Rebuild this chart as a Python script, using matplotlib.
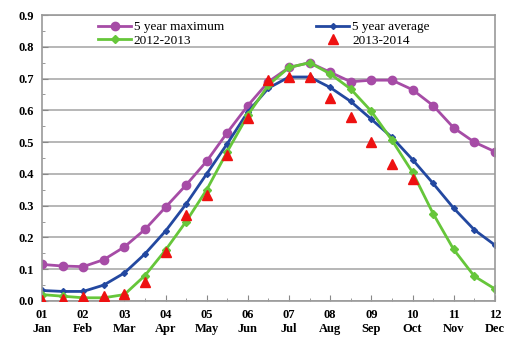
import numpy as np
import matplotlib.pyplot as plt

# Semi-monthly positions: 1 = 01 Jan ... 12 = 12 Dec
months = np.arange(1, 12.01, 0.5)
month_ticks = np.arange(1, 13)
month_labels = ["01\nJan", "02\nFeb", "03\nMar", "04\nApr", "05\nMay", "06\nJun",
                "07\nJul", "08\nAug", "09\nSep", "10\nOct", "11\nNov", "12\nDec"]

max5 = [0.115, 0.11, 0.108, 0.13, 0.17, 0.225, 0.295, 0.365, 0.44, 0.53, 0.615, 0.69,
        0.735, 0.75, 0.72, 0.69, 0.695, 0.695, 0.665, 0.615, 0.545, 0.50, 0.47]
avg5 = [0.033, 0.03, 0.03, 0.05, 0.088, 0.148, 0.22, 0.305, 0.40, 0.495, 0.595, 0.67,
        0.705, 0.705, 0.672, 0.628, 0.572, 0.515, 0.445, 0.37, 0.292, 0.224, 0.176]
y1213 = [0.02, 0.015, 0.01, 0.01, 0.02, 0.08, 0.16, 0.25, 0.35, 0.47, 0.585, 0.68,
         0.735, 0.75, 0.715, 0.667, 0.597, 0.506, 0.405, 0.275, 0.162, 0.078, 0.038]
y1314 = [0.003, 0.005, 0.012, 0.015, 0.022, 0.06, 0.155, 0.27, 0.335, 0.46, 0.575, 0.695,
         0.705, 0.705, 0.64, 0.58, 0.50, 0.43, 0.385]

plt.rcParams['font.family'] = ['Liberation Serif', 'DejaVu Serif']

fig = plt.figure(figsize=(5.06, 3.42), dpi=100)
ax = fig.add_axes([0.083, 0.12, 0.895, 0.836])

l_max, = ax.plot(months, max5, color="#a64ca6", lw=2, marker="o", ms=6, label="5 year maximum")
l_avg, = ax.plot(months, avg5, color="#2348a0", lw=2, marker="D", ms=3, label="5 year average")
l_12, = ax.plot(months, y1213, color="#66c63a", lw=2, marker="D", ms=4, label="2012-2013")
l_13, = ax.plot(months[:len(y1314)], y1314, color="#ee1111", lw=0, marker="^", ms=7,
                label="2013-2014", zorder=4)

ax.set_xlim(1, 12)
ax.set_ylim(0, 0.9)
ax.set_xticks(month_ticks)
ax.set_xticklabels(month_labels, fontsize=9, fontweight="bold")
ax.set_xticks(months, minor=True)
ax.set_yticks(np.arange(0, 0.91, 0.1))
ax.set_yticklabels(["%.1f" % v for v in np.arange(0, 0.91, 0.1)], fontsize=9, fontweight="bold")
ax.set_yticks(np.arange(0.05, 0.9, 0.1), minor=True)
ax.tick_params(axis="both", which="both", direction="in", color="#888888")
ax.tick_params(axis="both", which="major", length=4, pad=6)
ax.tick_params(axis="both", which="minor", length=2)
ax.grid(axis="y", color="#aaaaaa", lw=1.2)
for s in ax.spines.values():
    s.set_color("#999999")
    s.set_linewidth(1.2)

# two columns: maximum / 2012-2013 on the left, average / 2013-2014 on the right
ax.legend([l_max, l_12, l_avg, l_13],
          ["5 year maximum", "2012-2013", "5 year average", "2013-2014"],
          ncol=2, loc="upper center", bbox_to_anchor=(0.49, 1.02), frameon=False,
          fontsize=9.5, handlelength=2.5, columnspacing=7, labelspacing=0.1,
          handletextpad=0.2)

fig.savefig("out.png", dpi=100)
